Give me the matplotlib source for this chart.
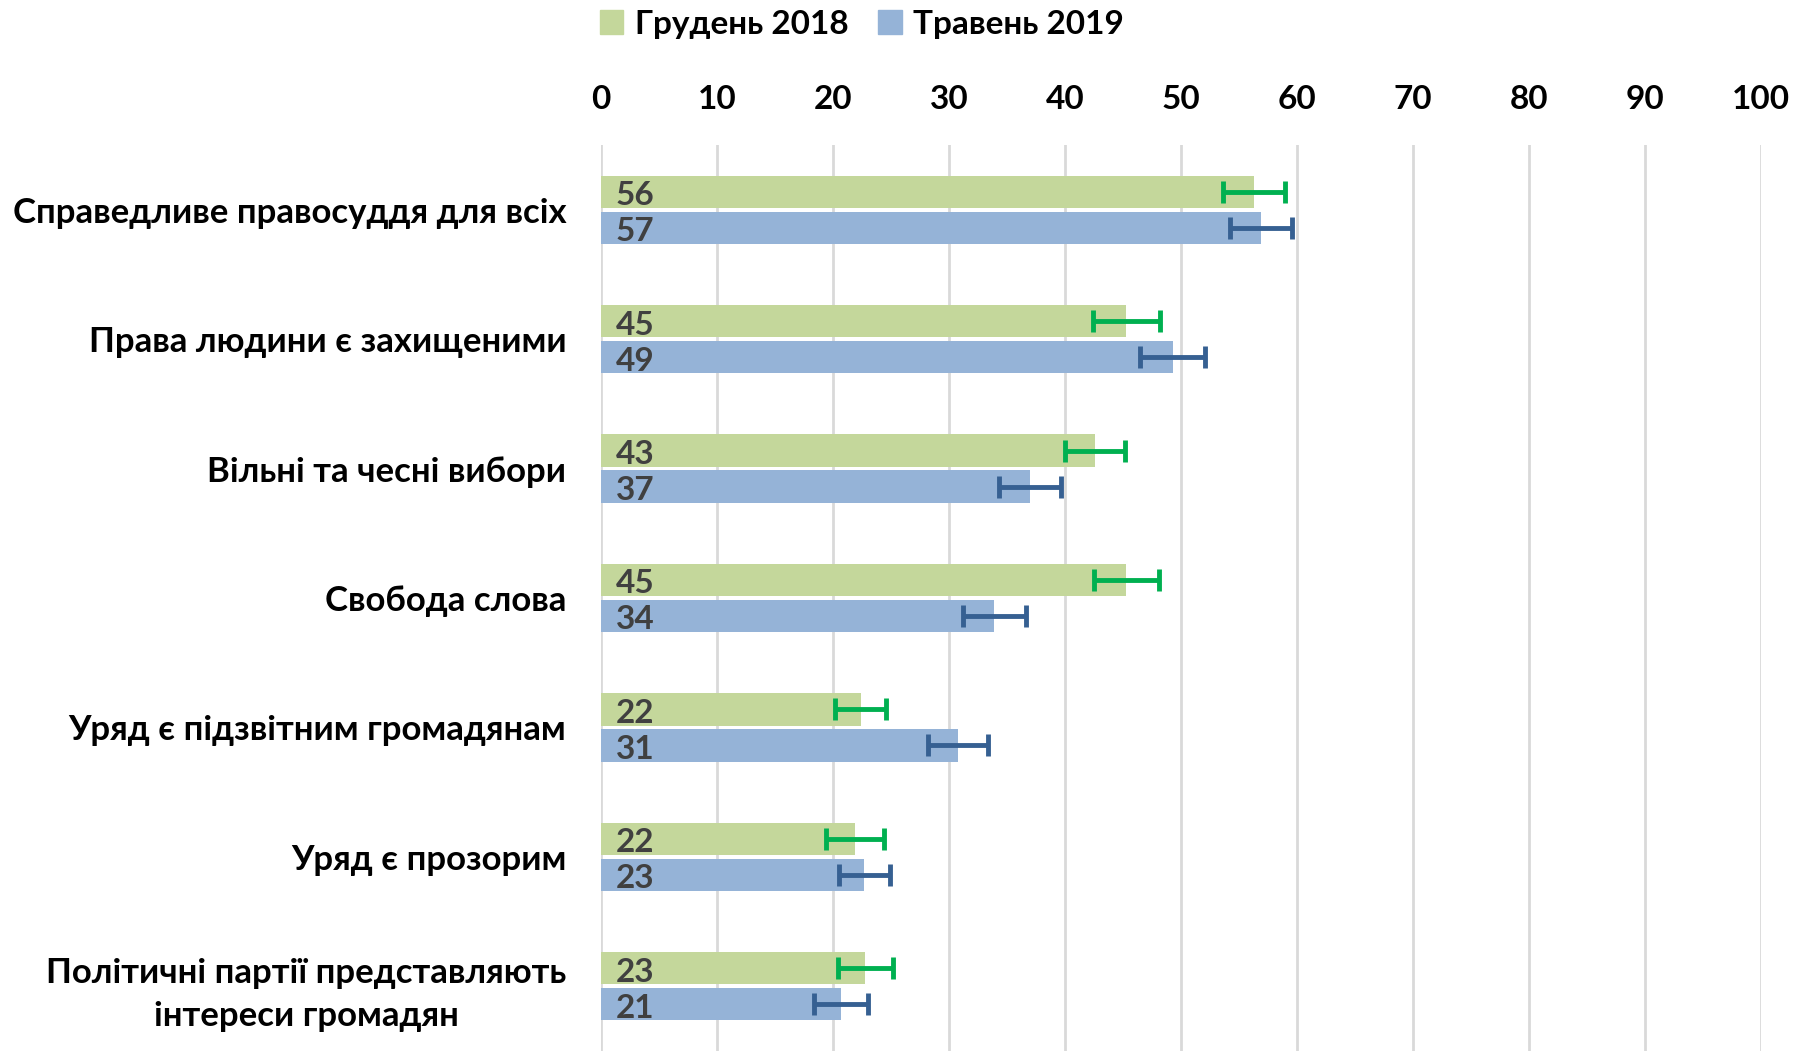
import numpy as np
import matplotlib
matplotlib.use("Agg")
import matplotlib.pyplot as plt
from matplotlib.patches import Patch

categories = [
    "Справедливе правосуддя для всіх",
    "Права людини є захищеними",
    "Вільні та чесні вибори",
    "Свобода слова",
    "Уряд є підзвітним громадянам",
    "Уряд є прозорим",
    "Політичні партії представляють\nінтереси громадян",
]
series_names = ["Грудень 2018", "Травень 2019"]
dec_2018 = [56.3, 45.3, 42.6, 45.3, 22.4, 21.9, 22.8]
may_2019 = [56.9, 49.3, 37.0, 33.9, 30.8, 22.7, 20.7]
dec_2018_labels = [56, 45, 43, 45, 22, 22, 23]
may_2019_labels = [57, 49, 37, 34, 31, 23, 21]
dec_2018_err = [2.65, 2.9, 2.6, 2.8, 2.2, 2.5, 2.4]
may_2019_err = [2.7, 2.8, 2.7, 2.7, 2.6, 2.2, 2.3]
x_ticks = [0, 10, 20, 30, 40, 50, 60, 70, 80, 90, 100]

plt.rcParams['font.family'] = ['Lato', 'DejaVu Sans']
plt.rcParams['font.weight'] = 'bold'

green, blue = '#C4D79B', '#95B3D7'
green_err, blue_err = '#00B050', '#366092'
label_color = '#404040'
fs = 24

fig = plt.figure(figsize=(17.96, 10.51), dpi=100)
ax = fig.add_axes([0.3346, 0.0, 0.6459, 0.862])

y = np.arange(len(categories))
h = 0.25
gap = 0.014

ax.barh(y - h / 2 - gap, dec_2018, height=h, color=green, zorder=2)
ax.barh(y + h / 2 + gap, may_2019, height=h, color=blue, zorder=2)
ax.errorbar(dec_2018, y - h / 2 - gap, xerr=dec_2018_err, fmt='none',
            ecolor=green_err, elinewidth=3.5, capsize=8, capthick=3.5, zorder=3)
ax.errorbar(may_2019, y + h / 2 + gap, xerr=may_2019_err, fmt='none',
            ecolor=blue_err, elinewidth=3.5, capsize=8, capthick=3.5, zorder=3)

# value labels sit at the left end of each bar
for yi, v in zip(y, dec_2018_labels):
    ax.text(1.3, yi - h / 2 - gap + 0.03, str(v), ha='left', va='center',
            fontsize=fs, fontweight='bold', color=label_color, zorder=4)
for yi, v in zip(y, may_2019_labels):
    ax.text(1.3, yi + h / 2 + gap + 0.03, str(v), ha='left', va='center',
            fontsize=fs, fontweight='bold', color=label_color, zorder=4)

ax.set_xlim(0, 100)
ax.set_ylim(len(categories) - 0.5, -0.5)
ax.set_xticks(x_ticks)
ax.xaxis.tick_top()
ax.tick_params(axis='x', length=0, pad=22, labelsize=fs)
ax.set_yticks(y)
ax.set_yticklabels(categories, fontsize=25, fontweight='bold')
ax.tick_params(axis='y', length=0, pad=25)
for lbl in ax.get_yticklabels():
    lbl.set_multialignment('center')
    lbl.set_linespacing(1.4)

ax.grid(axis='x', color='#D9D9D9', linewidth=2, zorder=0)
for s in ax.spines.values():
    s.set_visible(False)

handles = [Patch(color=green), Patch(color=blue)]
fig.legend(handles, series_names, loc='center', bbox_to_anchor=(0.48, 0.977),
           ncol=2, frameon=False, handlelength=0.7, handleheight=0.7,
           handletextpad=0.35, columnspacing=0.9, prop={'weight': 'bold', 'size': fs})

fig.savefig("out.png", dpi=100)
